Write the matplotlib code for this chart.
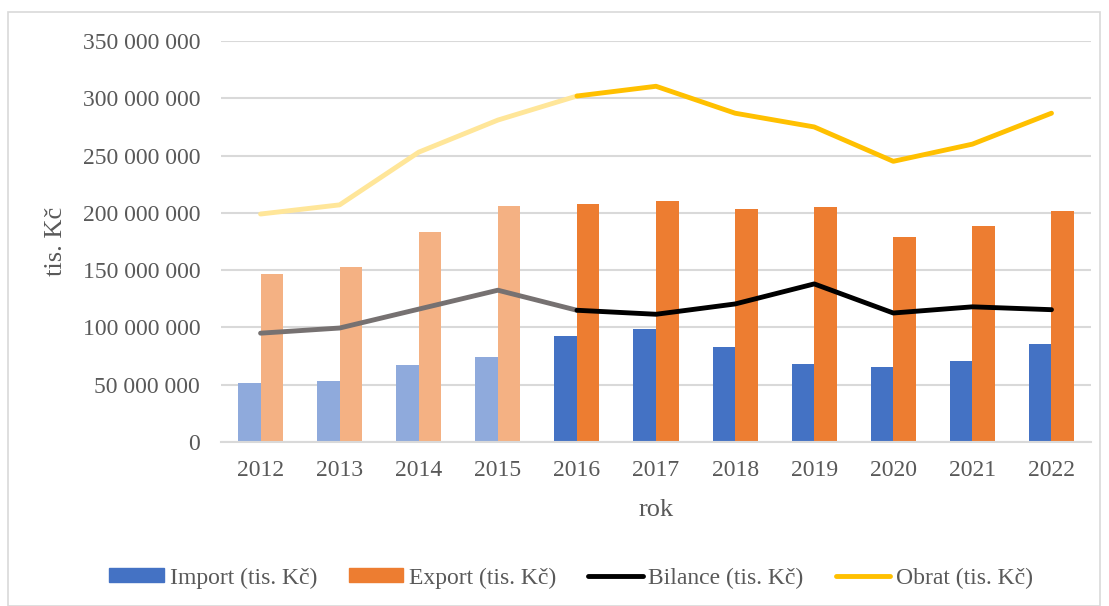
import matplotlib.pyplot as plt
import numpy as np
from matplotlib.patches import Rectangle
from matplotlib.lines import Line2D
from matplotlib.patches import Patch

plt.rcParams['font.family'] = ['Liberation Serif', 'DejaVu Serif']

years = ['2012', '2013', '2014', '2015', '2016', '2017', '2018', '2019', '2020', '2021', '2022']
import_vals = [51.5e6, 53e6, 67.5e6, 74e6, 92.5e6, 98.6e6, 83e6, 68e6, 65.5e6, 70.7e6, 85.5e6]
export_vals = [146.6e6, 153e6, 183.6e6, 206e6, 208e6, 210.4e6, 203.4e6, 205.5e6, 179e6, 188.5e6, 201.6e6]
bilance_vals = [95e6, 99.5e6, 116e6, 132.5e6, 115e6, 111.5e6, 120.5e6, 138e6, 112.6e6, 118e6, 115.5e6]
obrat_vals = [199e6, 207e6, 253e6, 281e6, 302e6, 310.5e6, 287e6, 275e6, 245e6, 260e6, 287e6]

n_light = 4  # first years drawn in lighter shade

c_imp, c_imp_l = '#4472C4', '#8FAADC'
c_exp, c_exp_l = '#ED7D31', '#F4B183'
c_bil, c_bil_l = '#000000', '#767171'
c_obr, c_obr_l = '#FFC000', '#FFE699'
txt = '#595959'

fig = plt.figure(figsize=(11.09, 6.06), dpi=100)
ax = fig.add_axes([0.1993, 0.2706, 0.7845, 0.6617])

x = np.arange(len(years))
w = 0.285
imp_cols = [c_imp_l if i < n_light else c_imp for i in range(len(years))]
exp_cols = [c_exp_l if i < n_light else c_exp for i in range(len(years))]
ax.bar(x - w / 2, import_vals, w, color=imp_cols, zorder=2)
ax.bar(x + w / 2, export_vals, w, color=exp_cols, zorder=2)

lw = 3.5
for vals, cl, cd in [(bilance_vals, c_bil_l, c_bil), (obrat_vals, c_obr_l, c_obr)]:
    ax.plot(x[:n_light + 1], vals[:n_light + 1], color=cl, lw=lw, zorder=3, solid_capstyle='round')
    ax.plot(x[n_light:], vals[n_light:], color=cd, lw=lw, zorder=3, solid_capstyle='round')

ax.set_xlim(-0.5, len(years) - 0.5)
ax.set_ylim(0, 350e6)
ticks = np.arange(0, 350e6 + 1, 50e6)
ax.set_yticks(ticks)
ax.set_yticklabels([f'{v:,.0f}'.replace(',', ' ') for v in ticks])
ax.set_xticks(x)
ax.set_xticklabels(years)
ax.tick_params(length=0, labelsize=17, colors=txt)
ax.tick_params(axis='x', pad=13)
ax.tick_params(axis='y', pad=15)
ax.grid(axis='y', color='#D9D9D9', lw=1.5, zorder=0)
for s in ['top', 'right', 'left']:
    ax.spines[s].set_visible(False)
ax.spines['bottom'].set_color('#D9D9D9')
ax.spines['bottom'].set_linewidth(1.5)

ax.set_xlabel('rok', fontsize=19, color=txt, labelpad=13)
ax.set_ylabel('tis. Kč', fontsize=19, color=txt)
ax.yaxis.set_label_coords(-0.177, 0.5)

handles = [Patch(color=c_imp), Patch(color=c_exp),
           Line2D([], [], color=c_bil, lw=lw, solid_capstyle='round'),
           Line2D([], [], color=c_obr, lw=lw, solid_capstyle='round')]
labels = ['Import (tis. Kč)', 'Export (tis. Kč)', 'Bilance (tis. Kč)', 'Obrat (tis. Kč)']
leg = fig.legend(handles, labels, loc='center', bbox_to_anchor=(0.515, 0.046), ncol=4,
                 frameon=False, fontsize=17, handlelength=2.3, handleheight=0.55,
                 columnspacing=1.35, handletextpad=0.25)
for t in leg.get_texts():
    t.set_color(txt)

fig.patches.append(Rectangle((8 / 1109, 0.0), 1092 / 1109, 1 - 12 / 606, transform=fig.transFigure,
                             fill=False, edgecolor='#D9D9D9', lw=1.2))

fig.savefig('out.png', dpi=100)
